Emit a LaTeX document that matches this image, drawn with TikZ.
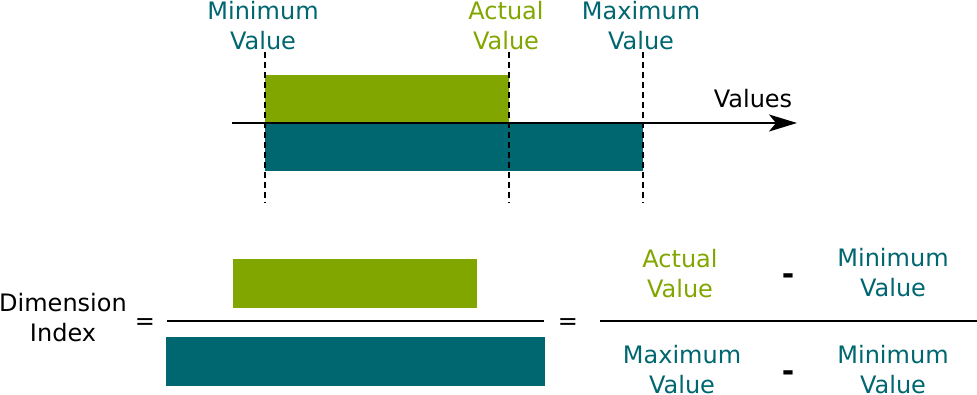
\documentclass[tikz,border=0pt]{standalone}
\usepackage{fontspec}
\setmainfont{DejaVu Sans}
\usetikzlibrary{arrows.meta}

\definecolor{idxgreen}{RGB}{130,166,0}
\definecolor{idxteal}{RGB}{0,102,112}

\tikzset{
  lbl/.style={align=center, inner sep=0pt, font=\fontsize{24}{30}\selectfont},
  sym/.style={inner sep=0pt, anchor=base, font=\fontsize{24}{30}\selectfont},
  minus/.style={inner sep=0pt, anchor=base, font=\fontsize{30}{36}\selectfont\bfseries},
  guide/.style={line width=1.8pt, dash pattern=on 6pt off 4pt},
  rule/.style={line width=2pt}
}

\begin{document}
\begin{tikzpicture}[x=1pt, y=-1pt]
\useasboundingbox (0,0) rectangle (977,395);

% upper part: the scale
\fill[idxgreen] (265,75) rectangle (509,123);
\fill[idxteal] (265,123) rectangle (643,171);

\coordinate (axstart) at (232,123);
\coordinate (axend) at (797,123);
\draw[rule, -{Stealth[length=28pt, width=17pt, inset=7pt]}] (axstart) -- (axend);
\node[sym] (values) at (753,108) {Values};

\coordinate (mintop) at (265,52);  \coordinate (minbot) at (265,203);
\coordinate (acttop) at (509,52);  \coordinate (actbot) at (509,203);
\coordinate (maxtop) at (643,52);  \coordinate (maxbot) at (643,203);
\draw[guide] (mintop) -- (minbot);
\draw[guide] (acttop) -- (actbot);
\draw[guide] (maxtop) -- (maxbot);

\node[lbl, text=idxteal] (minlbl) at (263,26) {Minimum\\Value};
\node[lbl, text=idxgreen] (actlbl) at (506,26) {Actual\\Value};
\node[lbl, text=idxteal] (maxlbl) at (641,26) {Maximum\\Value};

% lower part: the index
\node[lbl] (dimidx) at (63,318) {Dimension\\Index};
\node[sym] (eqone) at (145,329) {=};
\node[sym] (eqtwo) at (568,329) {=};

\fill[idxgreen] (233,259) rectangle (477,308);
\coordinate (fracl) at (167,321);
\coordinate (fracr) at (544,321);
\draw[rule] (fracl) -- (fracr);
\fill[idxteal] (166,337) rectangle (545,386);

\coordinate (fracrl) at (600,321);
\coordinate (fracrr) at (977,321);
\draw[rule] (fracrl) -- (fracrr);

\node[lbl, text=idxgreen] (numact) at (680,274) {Actual\\Value};
\node[minus] (numminus) at (788,284) {-};
\node[lbl, text=idxteal] (nummin) at (893,273) {Minimum\\Value};
\node[lbl, text=idxteal] (denmax) at (682,370) {Maximum\\Value};
\node[minus] (denminus) at (788,381) {-};
\node[lbl, text=idxteal] (denmin) at (893,370) {Minimum\\Value};
\end{tikzpicture}
\end{document}
